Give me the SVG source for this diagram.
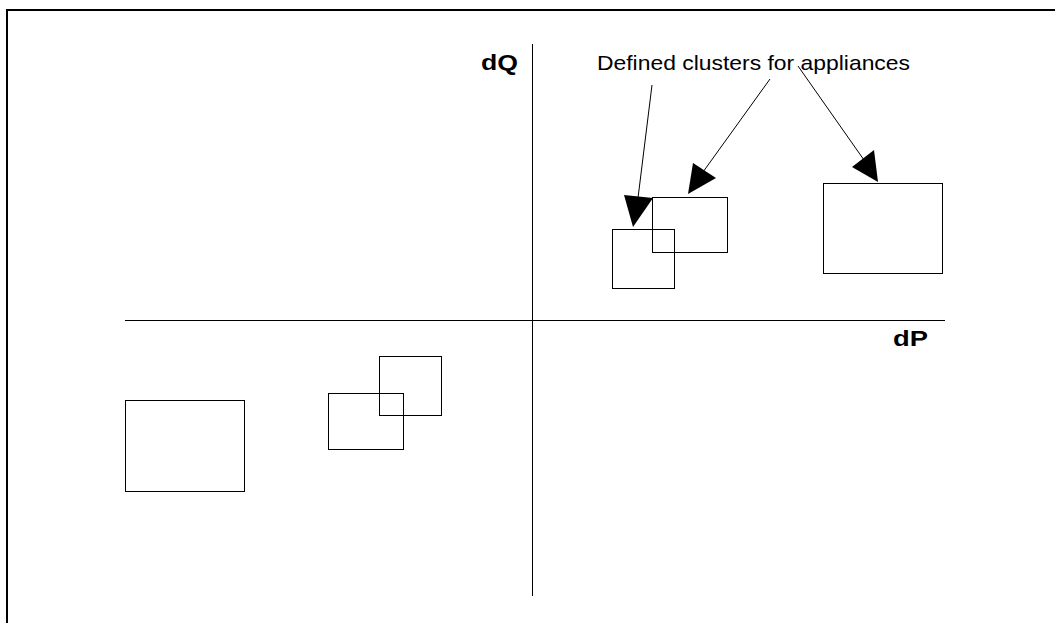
<svg xmlns="http://www.w3.org/2000/svg" width="1055" height="623" viewBox="0 0 1055 623">
  <style>
    .frame { fill: none; stroke: #000; stroke-width: 2; }
    .axis { fill: none; stroke: #000; stroke-width: 1; }
    .cluster { fill: none; stroke: #000; stroke-width: 1; }
    .lead { fill: none; stroke: #000; stroke-width: 1; }
    .head { fill: #000; stroke: none; }
    .label { font-family: "Liberation Sans", Arial, sans-serif; fill: #000; }
    .axislabel { font-family: "Liberation Sans", Arial, sans-serif; font-weight: bold; font-size: 22px; fill: #000; }
  </style>
  <rect width="1055" height="623" fill="#fff"/>
  <!-- outer frame, open to the right and bottom -->
  <path class="frame" d="M7 623 V10 H1055"/>

  <!-- axes -->
  <g id="axes">
    <line class="axis" x1="532.5" y1="44" x2="532.5" y2="596"/>
    <line class="axis" x1="125" y1="320.5" x2="945" y2="320.5"/>
    <text class="axislabel" x="481" y="70" textLength="37" lengthAdjust="spacingAndGlyphs">dQ</text>
    <text class="axislabel" x="893" y="346" textLength="35" lengthAdjust="spacingAndGlyphs">dP</text>
  </g>

  <!-- clusters, upper right quadrant -->
  <g id="cluster-a"><rect class="cluster" x="612.5" y="229.5" width="62" height="59"/></g>
  <g id="cluster-b"><rect class="cluster" x="652.5" y="197.5" width="75" height="55"/></g>
  <g id="cluster-c"><rect class="cluster" x="823.5" y="183.5" width="119" height="90"/></g>

  <!-- clusters, lower left quadrant -->
  <g id="cluster-d"><rect class="cluster" x="125.5" y="400.5" width="119" height="91"/></g>
  <g id="cluster-e"><rect class="cluster" x="328.5" y="393.5" width="75" height="56"/></g>
  <g id="cluster-f"><rect class="cluster" x="379.5" y="356.5" width="62" height="59"/></g>

  <!-- caption -->
  <g id="caption">
    <text class="label" x="597" y="70" font-size="21" textLength="313" lengthAdjust="spacingAndGlyphs">Defined clusters for appliances</text>
  </g>

  <!-- leader arrows from the caption to the upper clusters -->
  <g id="connectors">
    <line class="lead" x1="652" y1="85" x2="638" y2="198"/>
    <polygon class="head" points="624,195 653,198 633,227"/>
    <line class="lead" x1="770" y1="79" x2="703" y2="172"/>
    <polygon class="head" points="693,163 716,178 688,194"/>
    <line class="lead" x1="798" y1="66" x2="864" y2="160"/>
    <polygon class="head" points="852,167 874,150 878,182"/>
  </g>
</svg>
